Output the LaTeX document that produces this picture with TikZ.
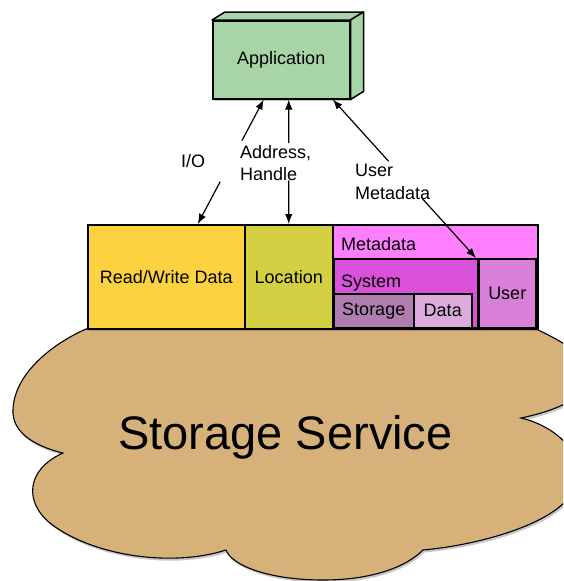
\documentclass[tikz,border=0pt]{standalone}
\usepackage{fontspec}
\setmainfont{Liberation Sans}
\usetikzlibrary{arrows.meta,calc,shadows}
\definecolor{appgreen}{RGB}{168,213,168}
\definecolor{rwcol}{RGB}{253,210,64}
\definecolor{loccol}{RGB}{212,208,67}
\definecolor{metacol}{RGB}{255,128,255}
\definecolor{syscol}{RGB}{218,82,218}
\definecolor{stocol}{RGB}{176,125,176}
\definecolor{datacol}{RGB}{220,170,220}
\definecolor{usercol}{RGB}{216,128,216}
\definecolor{cloudcol}{RGB}{214,178,122}
\newcommand\lblfont{\fontsize{18}{22.5}\selectfont}
\newcommand\bigfont{\fontsize{47}{56}\selectfont}
\begin{document}
\begin{tikzpicture}[x=1pt,y=-1pt,
  shad/.style={drop shadow={shadow xshift=1.5pt,shadow yshift=-2.5pt,fill=black,opacity=0.22}},
  box/.style={draw=black,line width=1.5pt,inner sep=0pt,anchor=north west,font=\lblfont},
  lbl/.style={inner sep=0pt,font=\lblfont},
  conn/.style={line width=1.2pt,-{Latex[length=10pt,width=7.5pt]}}]
\useasboundingbox (0,0) rectangle (563,581);
\clip (0,0) rectangle (563,581);
% cloud
\draw[fill=cloudcol,line width=1.1pt,shad]
  (86,329) -- (536,329)
  .. controls (555,338) and (590,355) .. (590,375)
  .. controls (590,395) and (560,410) .. (521,418)
  .. controls (550,425) and (578,445) .. (578,475)
  .. controls (578,520) and (480,545) .. (423,550)
  .. controls (405,568) and (370,580) .. (323,580)
  .. controls (270,580) and (232,566) .. (226,550)
  .. controls (170,568) and (90,555) .. (50,523)
  .. controls (25,503) and (25,470) .. (63,453)
  .. controls (30,445) and (12,430) .. (13,410)
  .. controls (14,375) and (50,345) .. (86,329) -- cycle;
\node[inner sep=0pt,font=\bigfont] (svc) at (285.5,437) {Storage Service};
% application
\node[box,fill=appgreen,shad,minimum width=137pt,minimum height=78pt] (app) at (212,20) {Application};
\draw[fill=appgreen,line width=1.5pt,line join=round] (app.north west) -- ++(13,-8) -- ([shift={(13,-8)}]app.north east) -- (app.north east) -- cycle;
\draw[fill=appgreen,line width=1.5pt,line join=round] (app.north east) -- ++(13,-8) -- ([shift={(13,-8)}]app.south east) -- (app.south east) -- cycle;
% storage interface boxes
\node[box,fill=rwcol,shad,minimum width=157pt,minimum height=104pt] (rw) at (87,224) {Read/Write Data};
\node[box,fill=loccol,shad,minimum width=88pt,minimum height=104pt] (loc) at (244,224) {Location};
\node[box,fill=metacol,shad,minimum width=205pt,minimum height=104pt] (meta) at (332,224) {};
\node[box,fill=syscol,minimum width=144pt,minimum height=69pt] (sys) at (333,258) {};
\node[box,fill=stocol,minimum width=80pt,minimum height=34pt] (sto) at (333,293) {Storage};
\node[box,fill=datacol,minimum width=58pt,minimum height=34pt] (dat) at (413,293) {Data};
\node[box,fill=usercol,minimum width=57pt,minimum height=69pt] (user) at (478,258) {User};
\node[lbl,anchor=base west] (metalbl) at (341,250) {Metadata};
\node[lbl,anchor=base west] (syslbl) at (341,287) {System};
% connectors
\coordinate (io1) at ([xshift=31.5pt]rw.north);
\coordinate (io2) at ([xshift=-17.5pt]app.south);
\draw[conn] ($(io1)!0.34!(io2)$) -- (io1);
\draw[conn] ($(io1)!0.67!(io2)$) -- (io2);
\coordinate (ad1) at (loc.north);
\coordinate (ad2) at (app.south -| loc.north);
\draw[conn] ($(ad1)!0.35!(ad2)$) -- (ad1);
\draw[conn] ($(ad1)!0.65!(ad2)$) -- (ad2);
\coordinate (um1) at ([xshift=-2pt]user.north west);
\coordinate (um2) at ([xshift=51.5pt]app.south);
\draw[conn] ($(um1)!0.375!(um2)$) -- (um1);
\draw[conn] ($(um1)!0.61!(um2)$) -- (um2);
% labels
\node[lbl] (io) at (193,161) {I/O};
\node[lbl,align=left,anchor=west] (addr) at (240,163) {Address,\\Handle};
\node[lbl,align=left,anchor=west] (umeta) at (355,182) {User\\Metadata};
\end{tikzpicture}
\end{document}
